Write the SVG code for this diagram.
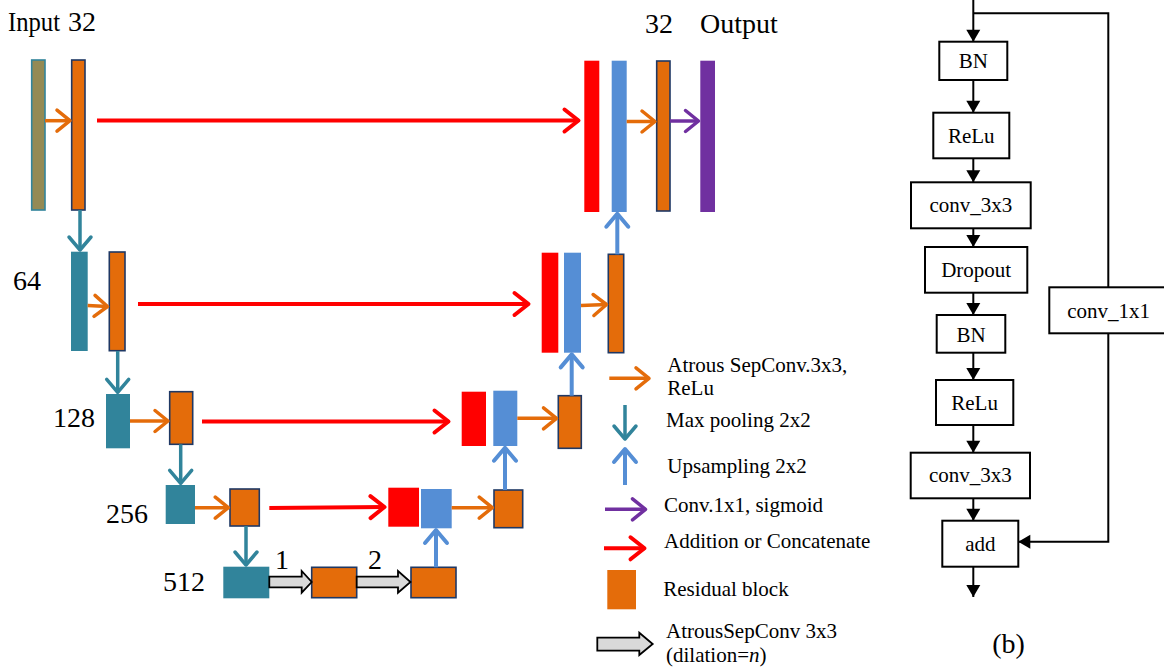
<svg xmlns="http://www.w3.org/2000/svg" width="1164" height="668" viewBox="0 0 1164 668">
  <style>
    text { font-family: "Liberation Serif", "Times New Roman", serif; fill: #000; }
    .lbl { font-size: 28px; }
    .leg { font-size: 21px; }
    .box { font-size: 21px; text-anchor: middle; }
    .res { fill: #E46C0A; stroke: #1F3864; stroke-width: 1.6; }
    .pool { fill: #31849B; }
    .inp { fill: #948A54; stroke: #31849B; stroke-width: 1.6; }
    .cat { fill: #FF0000; }
    .up { fill: #558ED5; }
    .out { fill: #7030A0; }
    .c-or { stroke: #E46C0A; stroke-width: 3.5; fill: none; marker-end: url(#h-or); }
    .c-reda { stroke: #FF0000; stroke-width: 4; fill: none; marker-end: url(#h-red); }
    .c-tl { stroke: #31849B; stroke-width: 3.5; fill: none; marker-end: url(#h-tl); }
    .c-bl { stroke: #558ED5; stroke-width: 4; fill: none; marker-end: url(#h-bl); }
    .c-pu { stroke: #7030A0; stroke-width: 3.5; fill: none; marker-end: url(#h-pu); }
    .dil { fill: #D9D9D9; stroke: #000; stroke-width: 1.8; stroke-linejoin: miter; }
    .blk { fill: #fff; stroke: #000; stroke-width: 2; }
    .flow { stroke: #000; stroke-width: 2; fill: none; }
    .flowa { stroke: #000; stroke-width: 2; fill: none; marker-end: url(#h-blk); }
  </style>
  <defs>
    <marker id="h-or" markerUnits="userSpaceOnUse" viewBox="-17 -14 21 28" refX="0" refY="0" markerWidth="21" markerHeight="28" orient="auto" overflow="visible">
      <path d="M-13,-10.5 L0,0 L-13,10.5" fill="none" stroke="#E46C0A" stroke-width="3.5" stroke-linecap="round" stroke-linejoin="round"/>
    </marker>
    <marker id="h-red" markerUnits="userSpaceOnUse" viewBox="-17 -14 21 28" refX="0" refY="0" markerWidth="21" markerHeight="28" orient="auto" overflow="visible">
      <path d="M-14,-11 L0,0 L-14,11" fill="none" stroke="#FF0000" stroke-width="4" stroke-linecap="round" stroke-linejoin="round"/>
    </marker>
    <marker id="h-tl" markerUnits="userSpaceOnUse" viewBox="-17 -14 21 28" refX="0" refY="0" markerWidth="21" markerHeight="28" orient="auto" overflow="visible">
      <path d="M-13,-11 L0,0 L-13,11" fill="none" stroke="#31849B" stroke-width="3.5" stroke-linecap="round" stroke-linejoin="round"/>
    </marker>
    <marker id="h-bl" markerUnits="userSpaceOnUse" viewBox="-17 -14 21 28" refX="0" refY="0" markerWidth="21" markerHeight="28" orient="auto" overflow="visible">
      <path d="M-13,-11 L0,0 L-13,11" fill="none" stroke="#558ED5" stroke-width="4" stroke-linecap="round" stroke-linejoin="round"/>
    </marker>
    <marker id="h-pu" markerUnits="userSpaceOnUse" viewBox="-17 -14 21 28" refX="0" refY="0" markerWidth="21" markerHeight="28" orient="auto" overflow="visible">
      <path d="M-13,-10.5 L0,0 L-13,10.5" fill="none" stroke="#7030A0" stroke-width="3.5" stroke-linecap="round" stroke-linejoin="round"/>
    </marker>
    <marker id="h-blk" markerUnits="userSpaceOnUse" viewBox="-13 -8 14 16" refX="0" refY="0" markerWidth="14" markerHeight="16" orient="auto" overflow="visible">
      <path d="M-12,-7 L0,0 L-12,7 Z" fill="#000"/>
    </marker>
  </defs>

  <!-- level labels -->
  <g id="labels">
    <text class="lbl" x="8" y="31" font-size="26" textLength="52" lengthAdjust="spacingAndGlyphs">Input</text>
    <text class="lbl" x="68" y="31">32</text>
    <text class="lbl" x="645" y="33">32</text>
    <text class="lbl" x="700" y="33">Output</text>
    <text class="lbl" x="13" y="290">64</text>
    <text class="lbl" x="53" y="427">128</text>
    <text class="lbl" x="106" y="523">256</text>
    <text class="lbl" x="163" y="591">512</text>
    <text class="lbl" x="282" y="569" text-anchor="middle" font-size="25">1</text>
    <text class="lbl" x="375" y="569" text-anchor="middle" font-size="25">2</text>
  </g>

  <!-- encoder -->
  <g id="enc-input"><rect class="inp" x="31.7" y="60" width="13.3" height="150"/></g>
  <g id="enc-res32"><rect class="res" x="71.7" y="60" width="13.3" height="150"/></g>
  <g id="enc-pool64"><rect class="pool" x="71" y="251.7" width="16.7" height="99.3"/></g>
  <g id="enc-res64"><rect class="res" x="109.3" y="252" width="15.7" height="98.7"/></g>
  <g id="enc-pool128"><rect class="pool" x="106" y="394" width="24" height="54.3"/></g>
  <g id="enc-res128"><rect class="res" x="169.7" y="391.7" width="23" height="52.6"/></g>
  <g id="enc-pool256"><rect class="pool" x="165.7" y="485" width="29.3" height="39"/></g>
  <g id="enc-res256"><rect class="res" x="230" y="489" width="29.3" height="37"/></g>
  <g id="bridge-pool512"><rect class="pool" x="223.3" y="566.7" width="46" height="31.6"/></g>
  <g id="bridge-res1"><rect class="res" x="311.7" y="567.3" width="45" height="30.4"/></g>
  <g id="bridge-res2"><rect class="res" x="411" y="567.3" width="45" height="30.4"/></g>

  <!-- decoder -->
  <g id="dec-cat256"><rect class="cat" x="388.3" y="487.7" width="30.7" height="39"/></g>
  <g id="dec-up256"><rect class="up" x="421" y="489" width="30.7" height="39.3"/></g>
  <g id="dec-res256"><rect class="res" x="494" y="490" width="28.7" height="37.7"/></g>
  <g id="dec-cat128"><rect class="cat" x="461.7" y="391.7" width="24.3" height="54.3"/></g>
  <g id="dec-up128"><rect class="up" x="493.3" y="390.7" width="24" height="55.3"/></g>
  <g id="dec-res128"><rect class="res" x="558.3" y="395.7" width="23" height="52.6"/></g>
  <g id="dec-cat64"><rect class="cat" x="541.7" y="252.7" width="16.6" height="100"/></g>
  <g id="dec-up64"><rect class="up" x="564" y="252.7" width="17" height="100"/></g>
  <g id="dec-res64"><rect class="res" x="608.3" y="254.3" width="15.4" height="98.4"/></g>
  <g id="dec-cat32"><rect class="cat" x="584.3" y="60.7" width="15" height="151.3"/></g>
  <g id="dec-up32"><rect class="up" x="611.7" y="60.7" width="15" height="151.3"/></g>
  <g id="dec-res32"><rect class="res" x="656.7" y="61" width="13.3" height="150"/></g>
  <g id="dec-output"><rect class="out" x="700.3" y="60.7" width="14.7" height="151.3"/></g>

  <!-- connectors -->
  <g id="connectors">
    <!-- atrous sep conv -->
    <line class="c-or" x1="45" y1="120.7" x2="70" y2="120.7"/>
    <line class="c-or" x1="626.7" y1="121.5" x2="655" y2="121.5"/>
    <line class="c-or" x1="87.7" y1="305.5" x2="107.5" y2="306.5"/>
    <line class="c-or" x1="581" y1="305.5" x2="606.5" y2="304.5"/>
    <line class="c-or" x1="130" y1="421" x2="168" y2="421"/>
    <line class="c-or" x1="517.3" y1="418.3" x2="556.5" y2="418.3"/>
    <line class="c-or" x1="195" y1="507.7" x2="228.3" y2="507.7"/>
    <line class="c-or" x1="451.7" y1="507.7" x2="492.3" y2="507.7"/>
    <!-- conv 1x1 sigmoid -->
    <line class="c-pu" x1="670" y1="121" x2="698.5" y2="121"/>
    <!-- skip connections -->
    <line class="c-reda" x1="97" y1="120.5" x2="578.5" y2="120.5"/>
    <line class="c-reda" x1="138" y1="304" x2="528.5" y2="304"/>
    <line class="c-reda" x1="202" y1="421.5" x2="448.5" y2="421.5"/>
    <line class="c-reda" x1="269.3" y1="508" x2="384.5" y2="507"/>
    <!-- max pooling -->
    <line class="c-tl" x1="80" y1="210" x2="80" y2="250"/>
    <line class="c-tl" x1="117.7" y1="351" x2="117.7" y2="392.3"/>
    <line class="c-tl" x1="180.7" y1="444.3" x2="180.7" y2="483.3"/>
    <line class="c-tl" x1="246" y1="526" x2="246" y2="565"/>
    <!-- upsampling -->
    <line class="c-bl" x1="436" y1="567.3" x2="436" y2="530"/>
    <line class="c-bl" x1="505" y1="490" x2="505" y2="447.7"/>
    <line class="c-bl" x1="571.7" y1="395.7" x2="571.7" y2="354.4"/>
    <line class="c-bl" x1="617.3" y1="254.3" x2="617.3" y2="213.7"/>
    <!-- dilated atrous sep conv -->
    <polygon class="dil" points="269.3,576.7 301.7,576.7 301.7,571 311.7,582 301.7,592.7 301.7,587.3 269.3,587.3"/>
    <polygon class="dil" points="356.7,576.7 398,576.7 398,571 410.5,582 398,592.7 398,587.3 356.7,587.3"/>
  </g>

  <!-- legend -->
  <g id="legend">
    <line class="c-or" x1="609.3" y1="378.3" x2="649" y2="378.3"/>
    <text class="leg" x="667.3" y="371.7">Atrous SepConv.3x3,</text>
    <text class="leg" x="667.3" y="395">ReLu</text>
    <line class="c-tl" x1="625" y1="405" x2="625" y2="439"/>
    <text class="leg" x="666" y="426.7">Max pooling 2x2</text>
    <line class="c-bl" x1="625" y1="485" x2="625" y2="449"/>
    <text class="leg" x="667.3" y="473.3">Upsampling 2x2</text>
    <line class="c-pu" x1="605" y1="509.3" x2="645.5" y2="509.3"/>
    <text class="leg" x="664" y="511.7">Conv.1x1, sigmoid</text>
    <line class="c-reda" x1="604" y1="548.3" x2="644.5" y2="548.3"/>
    <text class="leg" x="664" y="548.3">Addition or Concatenate</text>
    <rect x="607.3" y="570" width="28.7" height="39.3" fill="#E46C0A"/>
    <text class="leg" x="663.3" y="596">Residual block</text>
    <polygon class="dil" points="597.3,637.7 639.3,637.7 639.3,632.7 652.7,644 639.3,655 639.3,650.7 597.3,650.7"/>
    <text class="leg" x="666" y="637.7">AtrousSepConv 3x3</text>
    <text class="leg" x="666" y="661.7">(dilation=<tspan font-style="italic">n</tspan>)</text>
  </g>

  <!-- residual block (b) -->
  <g id="rb-connectors">
    <line class="flowa" x1="973.3" y1="0" x2="973.3" y2="41.7"/>
    <polyline class="flow" points="973.3,13.3 1108.3,13.3 1108.3,287.3"/>
    <line class="flowa" x1="973.3" y1="80" x2="973.3" y2="112.7"/>
    <line class="flowa" x1="973.3" y1="158.3" x2="973.3" y2="182.3"/>
    <line class="flowa" x1="973.3" y1="228.3" x2="973.3" y2="247"/>
    <line class="flowa" x1="973.3" y1="292.7" x2="973.3" y2="315"/>
    <line class="flowa" x1="973.3" y1="352.7" x2="973.3" y2="380"/>
    <line class="flowa" x1="973.3" y1="425" x2="973.3" y2="452.7"/>
    <line class="flowa" x1="973.3" y1="498.3" x2="973.3" y2="520.7"/>
    <line class="flowa" x1="973.3" y1="566.7" x2="973.3" y2="597"/>
    <polyline class="flowa" points="1108.3,333.3 1108.3,541.7 1018.3,541.7"/>
  </g>
  <g id="rb-bn1"><rect class="blk" x="939.3" y="41.7" width="68" height="38.3"/><text class="box" x="973.3" y="68">BN</text></g>
  <g id="rb-relu1"><rect class="blk" x="933.3" y="112.7" width="76" height="45.6"/><text class="box" x="971.3" y="142.5">ReLu</text></g>
  <g id="rb-conv1"><rect class="blk" x="911" y="182.3" width="119.7" height="46"/><text class="box" x="970.8" y="212">conv_3x3</text></g>
  <g id="rb-dropout"><rect class="blk" x="925" y="247" width="102.3" height="45.7"/><text class="box" x="976.2" y="277">Dropout</text></g>
  <g id="rb-bn2"><rect class="blk" x="936.7" y="315" width="68.6" height="37.7"/><text class="box" x="971" y="341.5">BN</text></g>
  <g id="rb-relu2"><rect class="blk" x="936" y="380" width="77.3" height="45"/><text class="box" x="974.6" y="409.5">ReLu</text></g>
  <g id="rb-conv2"><rect class="blk" x="910.7" y="452.7" width="119.3" height="45.6"/><text class="box" x="970.3" y="482">conv_3x3</text></g>
  <g id="rb-add"><rect class="blk" x="942.3" y="520.7" width="76" height="46"/><text class="box" x="980.3" y="550.5">add</text></g>
  <g id="rb-shortcut"><rect class="blk" x="1049.3" y="287.3" width="120" height="46"/><text class="leg" x="1067.3" y="318.3">conv_1x1</text></g>
  <text x="1008.5" y="653.3" font-size="28" text-anchor="middle">(b)</text>
</svg>
